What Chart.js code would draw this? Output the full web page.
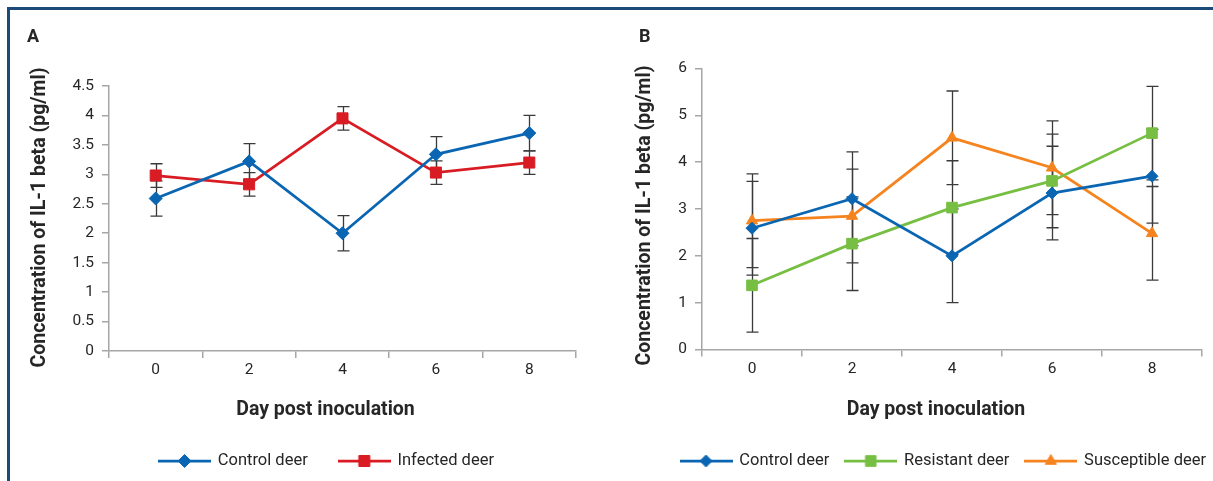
<!DOCTYPE html>
<html>
<head>
<meta charset="utf-8">
<title>IL-1 beta concentration in deer</title>
<script src="https://cdn.jsdelivr.net/npm/chart.js@4.4.1/dist/chart.umd.min.js"></script>
<style>
  html, body { margin: 0; padding: 0; background: #ffffff; }
  body { width: 1213px; height: 481px; position: relative; overflow: hidden; }
  .frame { position: absolute; left: 7px; top: 7px; width: 1260px; height: 490px;
           border-top: 3px solid #1a4b79; border-left: 3px solid #1a4b79; }
  .panel { position: absolute; top: 0; height: 481px; }
  #panelA { left: 0; width: 600px; }
  #panelB { left: 600px; width: 640px; }
</style>
</head>
<body>
<div class="frame"></div>
<div class="panel" id="panelA"><canvas id="chartA"></canvas></div>
<div class="panel" id="panelB"><canvas id="chartB"></canvas></div>
<script>
// Sampling days and axis ticks
const days = ['0', '2', '4', '6', '8'];
const yTicksA = [0, 0.5, 1, 1.5, 2, 2.5, 3, 3.5, 4, 4.5];
const yTicksB = [0, 1, 2, 3, 4, 5, 6];

// Panel A: control vs infected deer (mean and error)
const controlA = [2.59, 3.22, 2.00, 3.34, 3.70];
const controlErrA = [0.30, 0.30, 0.30, 0.30, 0.30];
const infectedA = [2.98, 2.83, 3.95, 3.03, 3.20];
const infectedErrA = [0.20, 0.20, 0.20, 0.20, 0.20];

// Panel B: control, resistant and susceptible deer (mean and error)
const controlB = [2.59, 3.22, 2.00, 3.34, 3.70];
const controlErrB = [1.00, 1.00, 1.00, 1.00, 1.00];
const resistantB = [1.37, 2.26, 3.03, 3.60, 4.62];
const resistantErrB = [1.00, 1.00, 1.00, 1.00, 1.00];
const susceptibleB = [2.75, 2.85, 4.52, 3.88, 2.48];
const susceptibleErrB = [1.00, 1.00, 1.00, 1.00, 1.00];

const yTitle = 'Concentration of IL-1 beta (pg/ml)';
const xTitle = 'Day post inoculation';

const BLUE = '#0a66b2';
const RED = '#d91c24';
const GREEN = '#77bf43';
const ORANGE = '#f5841f';
const AXIS = '#a6a6a6';
const TEXT = '#262626';
const FONT = 'Roboto';

// Vertical error bars, drawn beneath the lines and markers
const errorBars = {
  id: 'errorBars',
  beforeDatasetsDraw(chart, args, opts) {
    const ctx = chart.ctx;
    const y = chart.scales.y;
    ctx.save();
    ctx.strokeStyle = opts.color;
    ctx.lineWidth = opts.width;
    chart.data.datasets.forEach((ds, i) => {
      if (!ds.errors) return;
      chart.getDatasetMeta(i).data.forEach((pt, j) => {
        const v = ds.data[j], e = ds.errors[j];
        const x = Math.round(pt.x) + 0.5;
        const top = y.getPixelForValue(v + e);
        const bot = y.getPixelForValue(v - e);
        ctx.beginPath();
        ctx.moveTo(x, top); ctx.lineTo(x, bot);
        ctx.moveTo(x - opts.cap, top); ctx.lineTo(x + opts.cap, top);
        ctx.moveTo(x - opts.cap, bot); ctx.lineTo(x + opts.cap, bot);
        ctx.stroke();
      });
    });
    ctx.restore();
  }
};

// Panel letter and axis titles
const captions = {
  id: 'captions',
  afterDraw(chart, args, o) {
    const ctx = chart.ctx;
    const a = chart.chartArea;
    ctx.save();
    ctx.fillStyle = TEXT;
    ctx.textBaseline = 'alphabetic';
    ctx.font = 'bold 18px ' + FONT;
    ctx.textAlign = 'left';
    ctx.fillText(o.letter, o.letterX, o.letterY);
    ctx.font = o.titleFont;
    ctx.textAlign = 'center';
    ctx.fillText(o.xTitle, (a.left + a.right) / 2 + o.xTitleShift, o.xTitleY);
    ctx.translate(o.yTitleX, o.yTitleY);
    ctx.rotate(-Math.PI / 2);
    ctx.fillText(o.yTitle, 0, 0);
    ctx.restore();
  }
};

// Legend glyph: a short line with the series marker in its middle
function legendGlyph(color, style, radius) {
  const c = document.createElement('canvas');
  c.width = 53; c.height = 18;
  const g = c.getContext('2d');
  g.strokeStyle = color; g.fillStyle = color;
  g.lineWidth = 2.75;
  g.beginPath(); g.moveTo(0, 9); g.lineTo(53, 9); g.stroke();
  g.lineWidth = 1;
  Chart.helpers.drawPoint(g, { pointStyle: style, radius: radius, borderWidth: 1, rotation: 0 }, 26.5, 9);
  return c;
}

function series(label, data, errors, color, style, radius) {
  return {
    label, data, errors, yAxisID: 'y',
    borderColor: color, backgroundColor: color,
    pointBackgroundColor: color, pointBorderColor: color,
    borderWidth: 2.75, pointStyle: style, pointRadius: radius, pointBorderWidth: 1,
    pointHoverRadius: radius, tension: 0, glyph: legendGlyph(color, style, radius)
  };
}

function makeChart(id, cfg) {
  const scales = {
    x: {
      type: 'category',
      offset: true,
      grid: { offset: true, drawOnChartArea: false, drawTicks: true, tickLength: 7, color: AXIS, lineWidth: 1.5 },
      border: { display: true, color: AXIS, width: 1.5 },
      ticks: { color: TEXT, padding: 3, font: { family: FONT, size: 15.5 }, maxRotation: 0 },
      afterFit(s) { s.height = cfg.xHeight; }
    },
    y: {
      min: cfg.yMin, max: cfg.yMax,
      afterBuildTicks(s) { s.ticks = cfg.yTicks.map(v => ({ value: v })); },
      grid: { drawOnChartArea: false, drawTicks: true, tickLength: 7, color: AXIS, lineWidth: 1.5 },
      border: { display: true, color: AXIS, width: 1.5 },
      ticks: { color: TEXT, padding: cfg.yTickPad, font: { family: FONT, size: 15.5 }, callback: v => String(v) },
      afterFit(s) { s.width = cfg.yWidth; }
    },
    // empty margin on the right so the legend row can run past the plot
    gutter: {
      type: 'linear', axis: 'y', position: 'right',
      grid: { display: false }, border: { display: false }, ticks: { display: false },
      afterFit(s) { s.width = cfg.gutter; }
    }
  };
  return new Chart(document.getElementById(id), {
    type: 'line',
    data: { labels: days, datasets: cfg.datasets },
    plugins: [errorBars, captions],
    options: {
      responsive: true,
      maintainAspectRatio: false,
      animation: false,
      devicePixelRatio: 1,
      events: [],
      layout: { padding: cfg.padding },
      plugins: {
        tooltip: { enabled: false },
        legend: {
          position: 'bottom',
          align: cfg.legendAlign,
          labels: {
            usePointStyle: true,
            pointStyleWidth: 50,
            padding: cfg.legendGap,
            color: TEXT,
            font: { family: FONT, size: 16.5 },
            generateLabels(chart) {
              const items = Chart.defaults.plugins.legend.labels.generateLabels(chart);
              items.forEach(it => { it.pointStyle = chart.data.datasets[it.datasetIndex].glyph; });
              return items;
            }
          }
        },
        errorBars: { color: '#3a3a3a', width: 1.3, cap: 6 },
        captions: cfg.captions
      },
      scales
    }
  });
}

const titleFont = 'bold 19.5px ' + FONT;

makeChart('chartA', {
  datasets: [
    series('Control deer', controlA, controlErrA, BLUE, 'rectRot', 6.5),
    series('Infected deer', infectedA, infectedErrA, RED, 'rect', 7.8)
  ],
  padding: { left: 53.5, right: 0, top: 86, bottom: 1.75 },
  yWidth: 55.5, xHeight: 70.25, legendGap: 31.5, legendAlign: 'center', gutter: 24,
  yMin: 0, yMax: 4.5, yTicks: yTicksA, yTickPad: 8,
  captions: { letter: 'A', letterX: 27, letterY: 42, titleFont, xTitle, xTitleShift: -17, xTitleY: 415,
              yTitle, yTitleX: 45, yTitleY: 217.5 }
});

makeChart('chartB', {
  datasets: [
    series('Control deer', controlB, controlErrB, BLUE, 'rectRot', 6),
    series('Resistant deer', resistantB, resistantErrB, GREEN, 'rect', 7.5),
    series('Susceptible deer', susceptibleB, susceptibleErrB, ORANGE, 'triangle', 6.5)
  ],
  padding: { left: 64.5, right: 0, top: 68.5, bottom: 1.75 },
  yWidth: 37.5, xHeight: 86.75, legendGap: 16.5, legendAlign: 'start', gutter: 38,
  yMin: 0, yMax: 6, yTicks: yTicksB, yTickPad: 8,
  captions: { letter: 'B', letterX: 39, letterY: 42, titleFont, xTitle, xTitleShift: -16, xTitleY: 415,
              yTitle, yTitleX: 50, yTitleY: 215.5 }
});
</script>
</body>
</html>
